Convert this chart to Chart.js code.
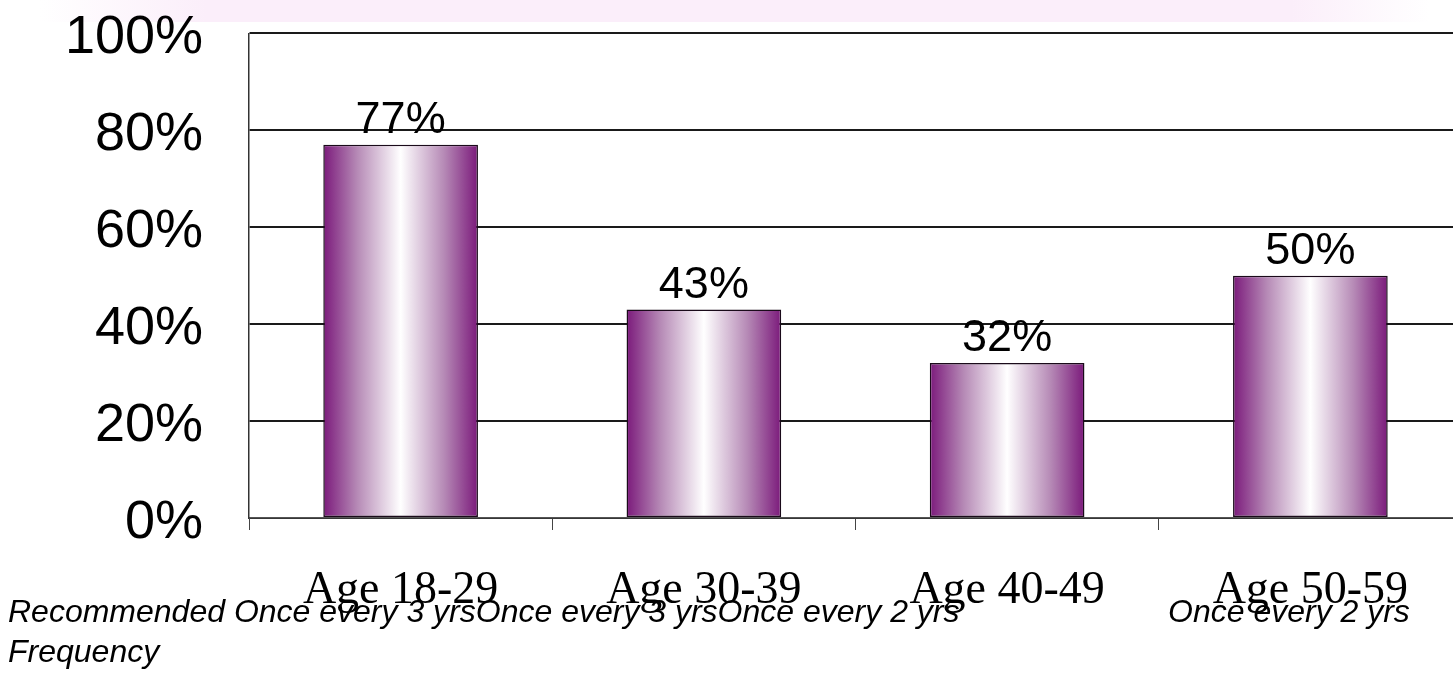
<!DOCTYPE html>
<html>
<head>
<meta charset="utf-8">
<script src="https://cdn.jsdelivr.net/npm/chart.js@4/dist/chart.umd.min.js"></script>
<style>
  html, body { margin: 0; padding: 0; background: #fff; overflow: hidden; }
  #wrap { position: relative; width: 1453px; height: 693px; overflow: hidden; }
  #band {
    position: absolute; left: 40px; top: 0; width: 1390px; height: 22px;
    background: linear-gradient(to right, rgba(251,238,250,0) 0%, #fbeefa 12%, #fbeefa 90%, rgba(251,238,250,0) 100%);
  }
  /* canvas pulled up so the plot top lands where the slide has it */
  canvas { position: absolute; left: 0; top: -45px; }
  .note {
    position: absolute; white-space: nowrap; color: #000;
    font: italic 32px "Liberation Sans", Arial, sans-serif;
  }
</style>
</head>
<body>
<div id="wrap">
  <div id="band"></div>
  <canvas id="chart" width="1462" height="738"></canvas>
  <div class="note" id="noteLeft" style="left:8px; top:593px;"></div>
  <div class="note" id="noteRight" style="left:1168px; top:593px;"></div>
  <div class="note" id="noteFreq" style="left:8px; top:633px;"></div>
</div>
<script>
const categories = ['Age 18-29', 'Age 30-39', 'Age 40-49', 'Age 50-59'];
const percentages = [77, 43, 32, 50];
const yTicks = [0, 20, 40, 60, 80, 100];
const frequencies = ['Once every 3 yrs', 'Once every 3 yrs', 'Once every 2 yrs', 'Once every 2 yrs'];

const barPct = 0.51;

// bottom text rows (copied from the slide table under the chart)
document.getElementById('noteLeft').textContent = 'Recommended ' + frequencies.slice(0, 3).join('');
document.getElementById('noteRight').textContent = frequencies[3];
document.getElementById('noteFreq').textContent = 'Frequency';

function barFill(context) {
    const chart = context.chart;
    const x = chart.scales.x;
    if (!x || !x.width) {
        return '#7e1e7e';
    }
    const center = x.getPixelForValue(context.dataIndex);
    const half = x.width / categories.length * barPct / 2;
    const g = chart.ctx.createLinearGradient(center - half, 0, center + half, 0);
    g.addColorStop(0, '#7b1a7b');
    g.addColorStop(0.22, '#b68ab6');
    g.addColorStop(0.5, '#ffffff');
    g.addColorStop(0.78, '#b68ab6');
    g.addColorStop(1, '#7b1a7b');
    return g;
}

const valueLabels = {
    id: 'valueLabels',
    afterDatasetsDraw(chart) {
        const ctx = chart.ctx;
        const meta = chart.getDatasetMeta(0);
        ctx.save();
        ctx.font = '45px "Liberation Sans", Arial, sans-serif';
        ctx.fillStyle = '#000';
        ctx.textAlign = 'center';
        ctx.textBaseline = 'alphabetic';
        meta.data.forEach((bar, i) => {
            ctx.fillText(percentages[i] + '%', bar.x, bar.y - 12);
        });
        ctx.restore();
    }
};

const ctx = document.getElementById('chart').getContext('2d');
new Chart(ctx, {
    type: 'bar',
    data: {
        labels: categories,
        datasets: [{
            data: percentages,
            backgroundColor: barFill,
            borderColor: '#1a0a1a',
            borderWidth: 1.5,
            borderSkipped: false,
            barPercentage: barPct,
            categoryPercentage: 1
        }]
    },
    options: {
        responsive: false,
        animation: false,
        events: [],
        layout: {
            padding: { top: 0, left: 0, right: 0, bottom: 0 }
        },
        plugins: {
            legend: { display: false },
            tooltip: { enabled: false }
        },
        scales: {
            x: {
                offset: true,
                afterFit: scale => { scale.height = 175; },
                grid: {
                    offset: true,
                    drawOnChartArea: false,
                    color: '#444',
                    tickLength: 12
                },
                border: { color: '#555', width: 1.5 },
                ticks: {
                    color: '#000',
                    padding: 33,
                    font: { family: '"Liberation Serif", serif', size: 46 }
                }
            },
            y: {
                min: 0,
                max: 100,
                afterFit: scale => { scale.width = 249; },
                afterBuildTicks: scale => { scale.ticks = yTicks.map(v => ({ value: v })); },
                grid: {
                    color: '#1a1a1a',
                    lineWidth: 2,
                    drawTicks: false
                },
                border: { color: '#333', width: 1.5 },
                ticks: {
                    color: '#000',
                    padding: 46,
                    labelOffset: 5,
                    font: { family: '"Liberation Sans", Arial, sans-serif', size: 54 },
                    callback: v => v + '%'
                }
            }
        }
    },
    plugins: [valueLabels]
});
</script>
</body>
</html>
